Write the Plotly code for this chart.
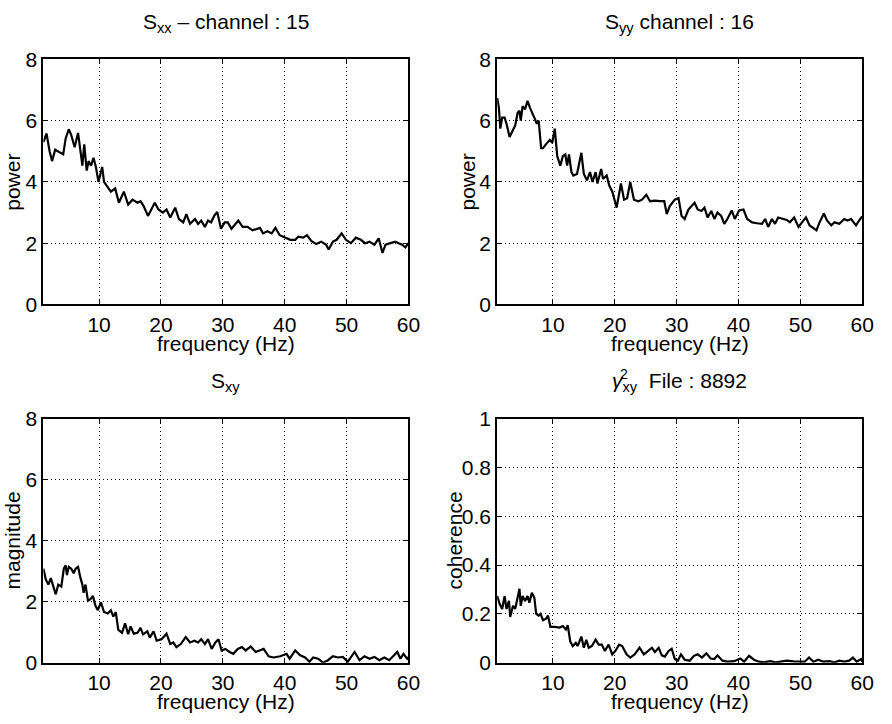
import plotly.graph_objects as go

# ---------------- data ----------------
freq_sxx = [1.0, 1.5, 2.0, 2.4, 2.9, 3.4, 4.2, 4.6, 5.1, 5.5, 6.05, 6.6, 7.0, 7.3, 7.6, 8.0, 8.3, 8.7,
            9.1, 9.5, 9.9, 10.5, 10.8, 11.4, 11.9, 12.6, 13.2, 14.0, 14.7, 15.4, 16.2, 16.7, 17.2, 17.9,
            19.0, 19.6, 20.3, 20.9, 21.5, 22.3, 22.9, 23.6, 24.1, 24.7, 25.5, 26.0, 26.5, 27.1, 27.6,
            28.1, 28.6, 29.1, 29.7, 30.3, 30.8, 31.4, 31.8, 32.5, 33.2, 34.0, 34.8, 35.6, 36.0, 36.5,
            37.2, 37.9, 38.5, 39.2, 40.1, 40.9, 41.7, 42.2, 43.0, 43.6, 44.3, 45.1, 45.9, 46.7, 47.1,
            47.8, 48.4, 49.2, 49.9, 50.7, 51.5, 52.3, 53.0, 53.7, 54.5, 55.2, 55.8, 56.3, 57.1, 57.9,
            58.4, 59.0, 59.5, 60.0]
sxx = [5.30, 5.58, 5.00, 4.68, 5.05, 5.00, 4.90, 5.42, 5.72, 5.53, 5.13, 5.60, 4.90, 4.53, 5.23, 4.37,
       4.68, 4.53, 4.79, 4.47, 4.00, 4.49, 4.00, 3.84, 3.68, 3.79, 3.32, 3.68, 3.26, 3.42, 3.32, 3.37,
       3.21, 2.89, 3.32, 3.10, 3.00, 3.10, 2.84, 3.16, 2.79, 2.68, 2.95, 2.63, 2.79, 2.63, 2.74, 2.53,
       2.74, 2.68, 2.89, 3.02, 2.47, 2.68, 2.68, 2.47, 2.58, 2.74, 2.53, 2.53, 2.42, 2.47, 2.50, 2.32,
       2.39, 2.32, 2.50, 2.26, 2.18, 2.11, 2.11, 2.21, 2.18, 2.26, 2.07, 1.97, 2.05, 1.95, 1.79, 2.05,
       2.11, 2.32, 2.11, 2.00, 2.18, 2.11, 2.00, 2.05, 1.95, 2.16, 1.68, 1.95, 2.00, 2.05, 2.00, 1.95,
       1.86, 2.00]

freq_syy = [1.0, 1.27, 1.5, 1.8, 2.2, 2.5, 3.0, 3.55, 3.9, 4.3, 4.6, 4.8, 5.1, 5.5, 5.9, 6.3, 6.7, 7.1,
            7.4, 7.7, 8.1, 8.4, 9.0, 9.5, 9.9, 10.3, 10.7, 11.2, 11.6, 12.0, 12.3, 12.6, 13.0, 13.3,
            13.9, 14.6, 15.0, 15.5, 16.0, 16.4, 16.9, 17.2, 17.8, 18.1, 18.7, 19.1, 19.6, 20.3, 21.0,
            21.5, 22.0, 22.5, 23.1, 23.8, 24.4, 25.1, 25.7, 26.5, 27.3, 28.0, 28.4, 28.9, 29.7, 30.3,
            30.8, 31.3, 31.9, 32.4, 32.9, 33.4, 34.0, 34.5, 35.0, 35.6, 36.1, 36.6, 37.2, 37.7, 38.2,
            38.9, 39.4, 40.1, 40.8, 41.4, 42.2, 43.0, 43.8, 44.3, 44.8, 45.4, 45.9, 46.4, 47.1, 47.8,
            48.3, 49.0, 49.7, 50.2, 50.9, 51.5, 52.2, 52.6, 53.1, 53.8, 54.3, 55.0, 55.5, 56.3, 57.1,
            57.6, 58.2, 59.0, 59.5, 60.0]
syy = [6.74, 6.42, 5.74, 6.10, 6.10, 5.90, 5.47, 5.68, 5.84, 6.26, 6.32, 6.00, 6.47, 6.37, 6.65, 6.42,
       6.26, 6.05, 5.90, 6.00, 5.10, 5.10, 5.26, 5.37, 5.28, 5.74, 4.84, 4.53, 4.84, 4.90, 4.53, 4.90,
       4.32, 4.21, 4.26, 4.95, 4.26, 4.05, 4.32, 4.00, 4.32, 3.95, 4.42, 4.10, 4.21, 3.89, 3.68, 3.16,
       3.95, 3.42, 3.47, 4.00, 3.42, 3.37, 3.42, 3.58, 3.37, 3.39, 3.37, 3.37, 2.95, 3.21, 3.42, 3.47,
       2.89, 2.79, 3.10, 3.21, 3.32, 3.10, 3.05, 3.16, 2.84, 3.05, 2.79, 3.00, 2.89, 2.63, 2.79, 3.07,
       2.79, 3.07, 3.10, 2.79, 2.68, 2.65, 2.63, 2.79, 2.53, 2.79, 2.63, 2.84, 2.79, 2.76, 2.68, 2.84,
       2.53, 2.65, 2.84, 2.58, 2.47, 2.42, 2.68, 2.97, 2.74, 2.58, 2.68, 2.63, 2.79, 2.74, 2.79, 2.58,
       2.74, 2.87]

freq_sxy = [1.0, 1.4, 1.8, 2.2, 2.6, 3.0, 3.4, 3.9, 4.3, 4.6, 4.8, 5.1, 5.5, 5.9, 6.2, 6.6, 7.0, 7.3,
            7.5, 7.8, 8.2, 8.6, 9.0, 9.4, 9.8, 10.3, 10.8, 11.4, 11.9, 12.3, 12.7, 13.1, 13.7, 14.2,
            14.7, 15.1, 15.6, 16.2, 16.7, 17.1, 17.8, 18.2, 18.8, 19.3, 20.1, 20.9, 21.5, 22.0, 22.5,
            23.2, 24.0, 24.7, 25.4, 26.0, 26.5, 27.1, 27.6, 28.2, 28.8, 29.3, 29.8, 30.4, 31.1, 31.7,
            32.4, 33.1, 33.7, 34.5, 35.3, 36.1, 36.6, 37.4, 38.2, 39.3, 40.3, 40.8, 41.7, 42.5, 43.3,
            44.0, 44.6, 45.4, 46.2, 47.0, 47.8, 48.6, 49.4, 50.2, 51.3, 52.1, 52.9, 53.7, 54.5, 55.3,
            56.1, 56.9, 57.7, 58.2, 58.7, 59.2, 59.8, 60.0]
sxy = [3.08, 2.72, 2.56, 2.77, 2.50, 2.24, 2.56, 2.50, 3.08, 3.19, 2.87, 3.14, 3.08, 2.93, 3.08, 3.14,
       2.77, 2.56, 2.29, 2.56, 2.03, 2.08, 2.19, 1.87, 1.72, 1.98, 1.66, 1.61, 1.72, 1.51, 1.66, 1.08,
       0.98, 1.29, 0.93, 1.19, 0.95, 0.98, 1.14, 0.93, 1.03, 0.82, 1.03, 0.72, 0.77, 0.95, 0.61, 0.66,
       0.51, 0.61, 0.84, 0.66, 0.72, 0.66, 0.77, 0.61, 0.77, 0.45, 0.66, 0.77, 0.40, 0.45, 0.35, 0.29,
       0.45, 0.51, 0.40, 0.53, 0.35, 0.40, 0.45, 0.21, 0.17, 0.21, 0.29, 0.13, 0.40, 0.24, 0.17, 0.03,
       0.17, 0.13, 0.00, 0.08, 0.21, 0.17, 0.19, 0.03, 0.35, 0.08, 0.21, 0.13, 0.19, 0.08, 0.17, 0.08,
       0.24, 0.35, 0.13, 0.29, 0.13, 0.18]

freq_coh = [1.0, 1.4, 1.8, 2.2, 2.5, 2.9, 3.1, 3.55, 3.9, 4.3, 4.6, 4.8, 5.1, 5.5, 5.9, 6.2, 6.6, 7.0,
            7.3, 7.7, 8.0, 8.4, 8.9, 9.2, 9.6, 10.3, 11.1, 11.6, 12.1, 12.4, 12.8, 13.2, 13.7, 14.0,
            14.6, 15.0, 15.4, 15.8, 16.3, 16.9, 17.4, 17.9, 18.4, 19.0, 19.6, 20.1, 20.7, 21.2, 21.9,
            22.5, 23.2, 24.0, 24.7, 25.4, 26.0, 26.5, 27.1, 27.6, 28.1, 28.7, 29.2, 29.7, 30.2, 30.7,
            31.3, 32.1, 32.8, 33.4, 34.1, 34.8, 35.5, 36.1, 36.6, 37.4, 38.2, 39.3, 40.3, 40.9, 41.7,
            42.5, 43.3, 44.1, 45.1, 46.0, 47.0, 47.8, 48.9, 50.0, 50.7, 51.4, 52.1, 52.9, 53.7, 54.7,
            55.5, 56.3, 57.1, 57.9, 58.5, 59.1, 59.8, 60.0]
coh = [0.273, 0.240, 0.220, 0.273, 0.220, 0.253, 0.187, 0.233, 0.220, 0.266, 0.303, 0.233, 0.273,
       0.253, 0.273, 0.246, 0.286, 0.266, 0.200, 0.193, 0.200, 0.174, 0.180, 0.193, 0.147, 0.147,
       0.144, 0.150, 0.136, 0.154, 0.087, 0.068, 0.081, 0.068, 0.107, 0.061, 0.094, 0.061, 0.068,
       0.094, 0.074, 0.074, 0.048, 0.074, 0.034, 0.048, 0.074, 0.068, 0.034, 0.021, 0.034, 0.061,
       0.034, 0.048, 0.061, 0.044, 0.061, 0.030, 0.025, 0.048, 0.057, 0.015, 0.008, 0.034, 0.012,
       0.008, 0.028, 0.034, 0.021, 0.038, 0.017, 0.015, 0.030, 0.008, 0.004, 0.006, 0.017, 0.004,
       0.028, 0.012, 0.004, 0.001, 0.006, 0.001, 0.004, 0.008, 0.005, 0.004, 0.004, 0.021, 0.004,
       0.012, 0.004, 0.006, 0.001, 0.008, 0.004, 0.008, 0.021, 0.004, 0.015, 0.004]

x_ticks = [10, 20, 30, 40, 50, 60]
power_ticks = [0, 2, 4, 6, 8]
coh_ticks = [0, 0.2, 0.4, 0.6, 0.8, 1]
coh_ticktext = ["0", "0.2", "0.4", "0.6", "0.8", "1"]

titles = ["S<sub>xx</sub> – channel : 15", "S<sub>yy</sub> channel : 16",
          "S<sub>xy</sub>", "<i>γ</i><sub>xy</sub>  File : 8892"]
ylabels = ["power", "power", "magnitude", "coherence"]
xlabel = "frequency (Hz)"

# ---------------- figure ----------------
FONT = "Liberation Sans, Arial, Helvetica, sans-serif"
FS = 21
W, H = 892, 724
xdom = [[44 / W, 414 / W], [504 / W, 874 / W]]
ydom = [[1 - 302 / H, 1 - 49 / H], [1 - 672 / H, 1 - 420 / H]]

fig = go.Figure()
series = [(freq_sxx, sxx), (freq_syy, syy), (freq_sxy, sxy), (freq_coh, coh)]
for i, (fx, fy) in enumerate(series):
    sfx = "" if i == 0 else str(i + 1)
    fig.add_trace(go.Scatter(x=fx, y=fy, mode="lines", xaxis="x" + sfx, yaxis="y" + sfx,
                             line=dict(color="black", width=2.2), showlegend=False,
                             hoverinfo="skip"))

layout = dict(width=W, height=H, margin=dict(l=0, r=0, t=0, b=0),
              paper_bgcolor="white", plot_bgcolor="white",
              font=dict(family=FONT, size=FS, color="black"), showlegend=False)

axis_common = dict(showline=True, linecolor="black", linewidth=2, mirror="ticks",
                   ticks="inside", ticklen=5, tickwidth=1, tickcolor="black",
                   showgrid=True, gridcolor="black", gridwidth=1, griddash="1px,3px",
                   zeroline=False, tickfont=dict(family=FONT, size=FS, color="black"))

annotations = []
for i in range(4):
    r, c = divmod(i, 2)
    sfx = "" if i == 0 else str(i + 1)
    xa = dict(axis_common, domain=xdom[c], range=[1, 60], tickmode="array", tickvals=x_ticks,
              anchor="y" + sfx)
    if i == 3:
        ya = dict(axis_common, domain=ydom[r], range=[0, 1], tickmode="array",
                  tickvals=coh_ticks, ticktext=coh_ticktext, anchor="x" + sfx)
    else:
        ya = dict(axis_common, domain=ydom[r], range=[0, 8], tickmode="array",
                  tickvals=power_ticks, anchor="x" + sfx)
    layout["xaxis" + sfx] = xa
    layout["yaxis" + sfx] = ya

    xc = (xdom[c][0] + xdom[c][1]) / 2
    ytop = ydom[r][1]
    ybot = ydom[r][0]
    ymid = (ytop + ybot) / 2
    # title
    annotations.append(dict(text=titles[i], x=xc, y=ytop + 22 / H, xref="paper", yref="paper",
                            xanchor="center", yanchor="bottom", showarrow=False,
                            font=dict(family=FONT, size=FS)))
    # x label
    annotations.append(dict(text=xlabel, x=xc, y=ybot - 40 / H, xref="paper", yref="paper",
                            xanchor="center", yanchor="middle", showarrow=False,
                            font=dict(family=FONT, size=FS)))
    # y label
    ylx = 13 / W if c == 0 else (474 / W if i == 1 else 461 / W)
    annotations.append(dict(text=ylabels[i], x=ylx, y=ymid, xref="paper", yref="paper",
                            xanchor="center", yanchor="middle", textangle=-90, showarrow=False,
                            font=dict(family=FONT, size=FS)))

# superscript "2" stacked above the "xy" subscript of gamma
annotations.append(dict(text="2", x=633 / W, y=1 - 374 / H, xref="paper", yref="paper",
                        xanchor="center", yanchor="middle", showarrow=False,
                        font=dict(family=FONT, size=14)))

layout["annotations"] = annotations
fig.update_layout(**layout)
fig.write_html("out.html")
